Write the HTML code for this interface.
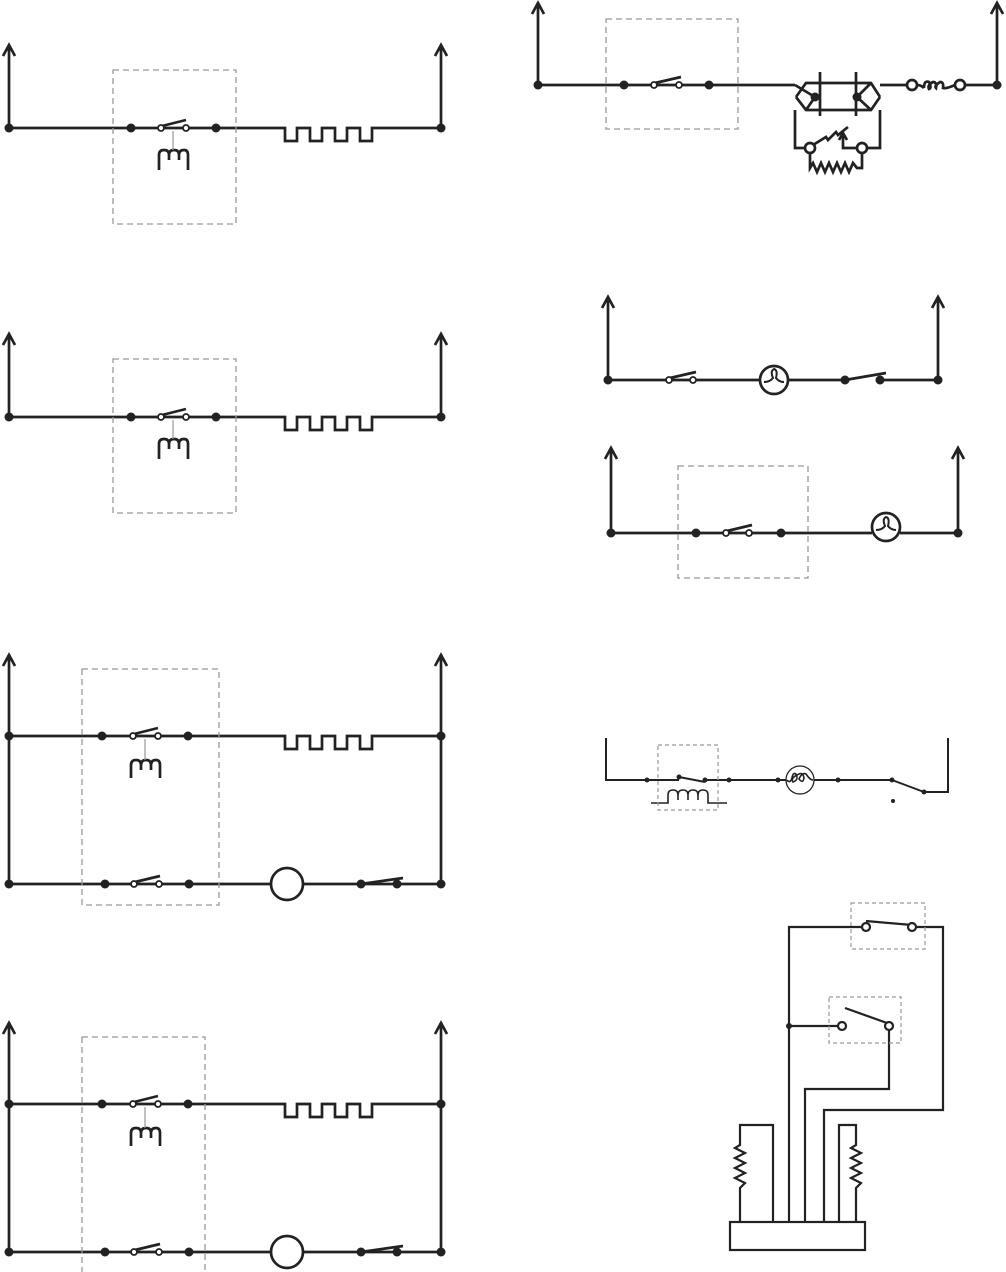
<!DOCTYPE html>
<html><head><meta charset="utf-8"><style>html,body{margin:0;padding:0;background:#fff}svg{display:block}</style></head>
<body>
<svg width="1006" height="1272" viewBox="0 0 1006 1272" xmlns="http://www.w3.org/2000/svg">
<g fill="none" stroke="#222" stroke-width="2.7" stroke-linejoin="miter">

<!-- ===== Left diagram 1 ===== -->
<g id="L1">
<path d="M9,128V46M3,56L9,45L15,56"/>
<path d="M441,128V46M435,56L441,45L447,56"/>
<path d="M9,128H158M164,128H183M189,128H285V141H297V128H310V141H322V128H335V141H347V128H360V141H372V128H441"/>
<path d="M162,126L186,120"/>
<circle cx="161" cy="128" r="3" stroke-width="1.8" fill="#fff"/>
<circle cx="186" cy="128" r="3" stroke-width="1.8" fill="#fff"/>
<path d="M159,170V155Q159,150 164,150Q169,150 169,155V160M169,155Q169,150 174,150Q179,150 179,155V160M179,155Q179,150 184,150Q188,150 188,155V170"/>
<path d="M173,131V150" stroke="#999" stroke-width="1.2"/>
<rect x="113" y="70" width="123" height="154" stroke="#999" stroke-width="1.3" stroke-dasharray="6,4"/>
<g fill="#222" stroke="none"><circle cx="9" cy="128" r="4.5"/><circle cx="131" cy="128" r="4.5"/><circle cx="216" cy="128" r="4.5"/><circle cx="441" cy="128" r="4.5"/></g>
</g>
<use href="#L1" transform="translate(0,289)"/>

<!-- ===== Left diagram 3 ===== -->
<g id="L3">
<path d="M9,884V656M3,666L9,655L15,666"/>
<path d="M441,884V656M435,666L441,655L447,666"/>
<path d="M9,736H130M136,736H155M161,736H285V749H297V736H310V749H322V736H335V749H347V736H360V749H372V736H441"/>
<path d="M134,734L158,728"/>
<circle cx="133" cy="736" r="3" stroke-width="1.8" fill="#fff"/>
<circle cx="158" cy="736" r="3" stroke-width="1.8" fill="#fff"/>
<path d="M131,778V765Q131,760 136,760Q141,760 141,765V770M141,765Q141,760 146,760Q151,760 151,765V770M151,765Q151,760 156,760Q160,760 160,765V778"/>
<path d="M145,739V760" stroke="#999" stroke-width="1.2"/>
<path d="M9,884H131M137,884H156M162,884H271M303,884H441"/>
<path d="M135,882L160,876"/>
<circle cx="134" cy="884" r="3" stroke-width="1.8" fill="#fff"/>
<circle cx="159" cy="884" r="3" stroke-width="1.8" fill="#fff"/>
<circle cx="287" cy="884" r="16"/>
<path d="M361,884L403,878"/>
<g fill="#222" stroke="none"><circle cx="9" cy="736" r="4.5"/><circle cx="102" cy="736" r="4.5"/><circle cx="188" cy="736" r="4.5"/><circle cx="441" cy="736" r="4.5"/>
<circle cx="9" cy="884" r="4.5"/><circle cx="105" cy="884" r="4.5"/><circle cx="189" cy="884" r="4.5"/><circle cx="361" cy="884" r="4.5"/><circle cx="397" cy="884" r="4.5"/><circle cx="441" cy="884" r="4.5"/></g>
</g>
<rect x="82" y="669" width="137" height="236" stroke="#999" stroke-width="1.3" stroke-dasharray="6,4"/>
<use href="#L3" transform="translate(0,368)"/>
<rect x="82" y="1037" width="123" height="240" stroke="#999" stroke-width="1.3" stroke-dasharray="6,4"/>

<!-- ===== Right top ===== -->
<path d="M538,85V4M532,14L538,3L544,14"/>
<path d="M997,85V4M991,14L997,3L1003,14"/>
<path d="M538,85H651M657,85H676M682,85H795"/>
<path d="M655,83L681,77"/>
<circle cx="654" cy="85" r="3" stroke-width="1.8" fill="#fff"/>
<circle cx="679" cy="85" r="3" stroke-width="1.8" fill="#fff"/>
<rect x="606" y="19" width="132" height="110" stroke="#999" stroke-width="1.3" stroke-dasharray="6,4"/>
<path d="M795,85L815,97M796,97L806,83H871L880,97M796,97L806,110H871L880,97M806,110L815,97M871,83L857,97M871,110L857,97M880,85H907"/>
<path d="M820,72V116M856,72V116"/>
<path d="M795,110V148H805M880,110V148H867"/>
<path d="M810,153V168L813,163L817,172L821,163L825,172L829,163L833,172L837,163L841,172L845,163L849,172L853,163L857,168H862V153"/>
<path d="M813,145L826,137L828,140L836,132L838,135L848,127"/>
<path d="M857,148H843V134M839,140L843,133L847,140"/>
<circle cx="810" cy="148" r="5" fill="#fff"/>
<circle cx="862" cy="148" r="5" fill="#fff"/>
<circle cx="912" cy="85" r="5" fill="#fff"/>
<path d="M917,85Q921,85 924,88M924,88Q924,80 929,82Q932,88 929,89Q927,85 933,82Q937,82 936,88Q934,86 940,82Q944,82 943,88Q946,89 955,85"/>
<circle cx="960" cy="85" r="5" fill="#fff"/>
<path d="M965,85H997"/>
<g fill="#222" stroke="none"><circle cx="538" cy="85" r="4.5"/><circle cx="624" cy="85" r="4.5"/><circle cx="709" cy="85" r="4.5"/><circle cx="815" cy="97" r="4.5"/><circle cx="857" cy="97" r="4.5"/><circle cx="997" cy="85" r="4.5"/></g>

<!-- ===== Right middle 1 ===== -->
<path d="M608,380V298M602,308L608,297L614,308"/>
<path d="M938,380V298M932,308L938,297L944,308"/>
<path d="M608,380H666M672,380H690M696,380H760M788,380H845M880,380H938"/>
<path d="M670,378L696,372M845,380L886,373"/>
<circle cx="669" cy="380" r="3" stroke-width="1.8" fill="#fff"/>
<circle cx="693" cy="380" r="3" stroke-width="1.8" fill="#fff"/>
<circle cx="774" cy="380" r="14"/>
<path d="M764,382Q770,382 773,378Q770,371 774,369Q778,370 776,378Q779,382 784,382" stroke-width="2"/>
<g fill="#222" stroke="none"><circle cx="608" cy="380" r="4.5"/><circle cx="845" cy="380" r="4.5"/><circle cx="880" cy="380" r="4.5"/><circle cx="938" cy="380" r="4.5"/></g>

<!-- ===== Right middle 2 ===== -->
<path d="M611,533V449M605,459L611,448L617,459"/>
<path d="M958,533V449M952,459L958,448L964,459"/>
<path d="M611,533H723M729,533H746M752,533H872M900,533H958"/>
<path d="M727,531L752,525"/>
<circle cx="726" cy="533" r="3" stroke-width="1.8" fill="#fff"/>
<circle cx="749" cy="533" r="3" stroke-width="1.8" fill="#fff"/>
<circle cx="886" cy="527" r="14"/>
<path d="M876,530Q882,530 885,526Q882,519 886,517Q890,518 888,526Q891,530 896,530" stroke-width="2"/>
<rect x="678" y="466" width="130" height="112" stroke="#999" stroke-width="1.3" stroke-dasharray="6,4"/>
<g fill="#222" stroke="none"><circle cx="611" cy="533" r="4.5"/><circle cx="696" cy="533" r="4.5"/><circle cx="781" cy="533" r="4.5"/><circle cx="958" cy="533" r="4.5"/></g>

<!-- ===== Right relay diagram ===== -->
<g stroke-width="2">
<path d="M606,738V780H679M705,780H786M814,780H892M924,792H948V738"/>
<path d="M679,777L705,782M892,780L924,792"/>
<circle cx="800" cy="780" r="14" stroke-width="1.3"/>
<path d="M787,780Q790,784 792,778Q793,772 796,774Q799,780 793,782Q790,778 799,774Q803,772 804,778Q803,784 799,779Q802,772 806,774Q810,780 813,780" stroke-width="1.6"/>
<path d="M651,803H668V795Q668,790 673,790Q678,790 678,795V800M678,795Q678,790 683,790Q688,790 688,795V800M688,795Q688,790 693,790Q698,790 698,795V800M698,795Q698,790 703,790Q708,790 708,795V803H727" stroke-width="1.6"/>
</g>
<rect x="658" y="745" width="60" height="65" stroke="#999" stroke-width="1.2" stroke-dasharray="4,3"/>
<g fill="#222" stroke="none"><circle cx="647" cy="780" r="2.5"/><circle cx="679" cy="777" r="2.5"/><circle cx="705" cy="780" r="2.5"/><circle cx="729" cy="780" r="2.5"/><circle cx="778" cy="780" r="2.5"/><circle cx="838" cy="780" r="2.5"/><circle cx="892" cy="780" r="2.5"/><circle cx="924" cy="792" r="2.5"/><circle cx="893" cy="801" r="2"/></g>

<!-- ===== Bottom right ===== -->
<g stroke-width="2.2">
<path d="M863,927H789V1222M917,927H943V1110H824V1222"/>
<path d="M866,921L912,925"/>
<circle cx="866" cy="927" r="4" fill="#fff"/>
<circle cx="912" cy="927" r="4" fill="#fff"/>
<path d="M789,1026H838"/>
<circle cx="842" cy="1026" r="4" fill="#fff"/>
<path d="M845,1008L887,1023"/>
<circle cx="889" cy="1026" r="4" fill="#fff"/>
<path d="M889,1030V1089H805V1222"/>
<path d="M773,1222V1125H740V1145L735,1148L745,1153L735,1158L745,1163L735,1168L745,1173L735,1178L745,1183L740,1188V1222"/>
<path d="M839,1222V1125H856V1145L851,1148L861,1153L851,1158L861,1163L851,1168L861,1173L851,1178L861,1183L856,1188V1222"/>
<rect x="730" y="1222" width="135" height="28"/>
</g>
<circle cx="789" cy="1026" r="3" fill="#222" stroke="none"/>
<rect x="851" y="903" width="74" height="46" stroke="#999" stroke-width="1.2" stroke-dasharray="4,3"/>
<rect x="829" y="997" width="72" height="46" stroke="#999" stroke-width="1.2" stroke-dasharray="4,3"/>
</g>
</svg>
</body></html>
